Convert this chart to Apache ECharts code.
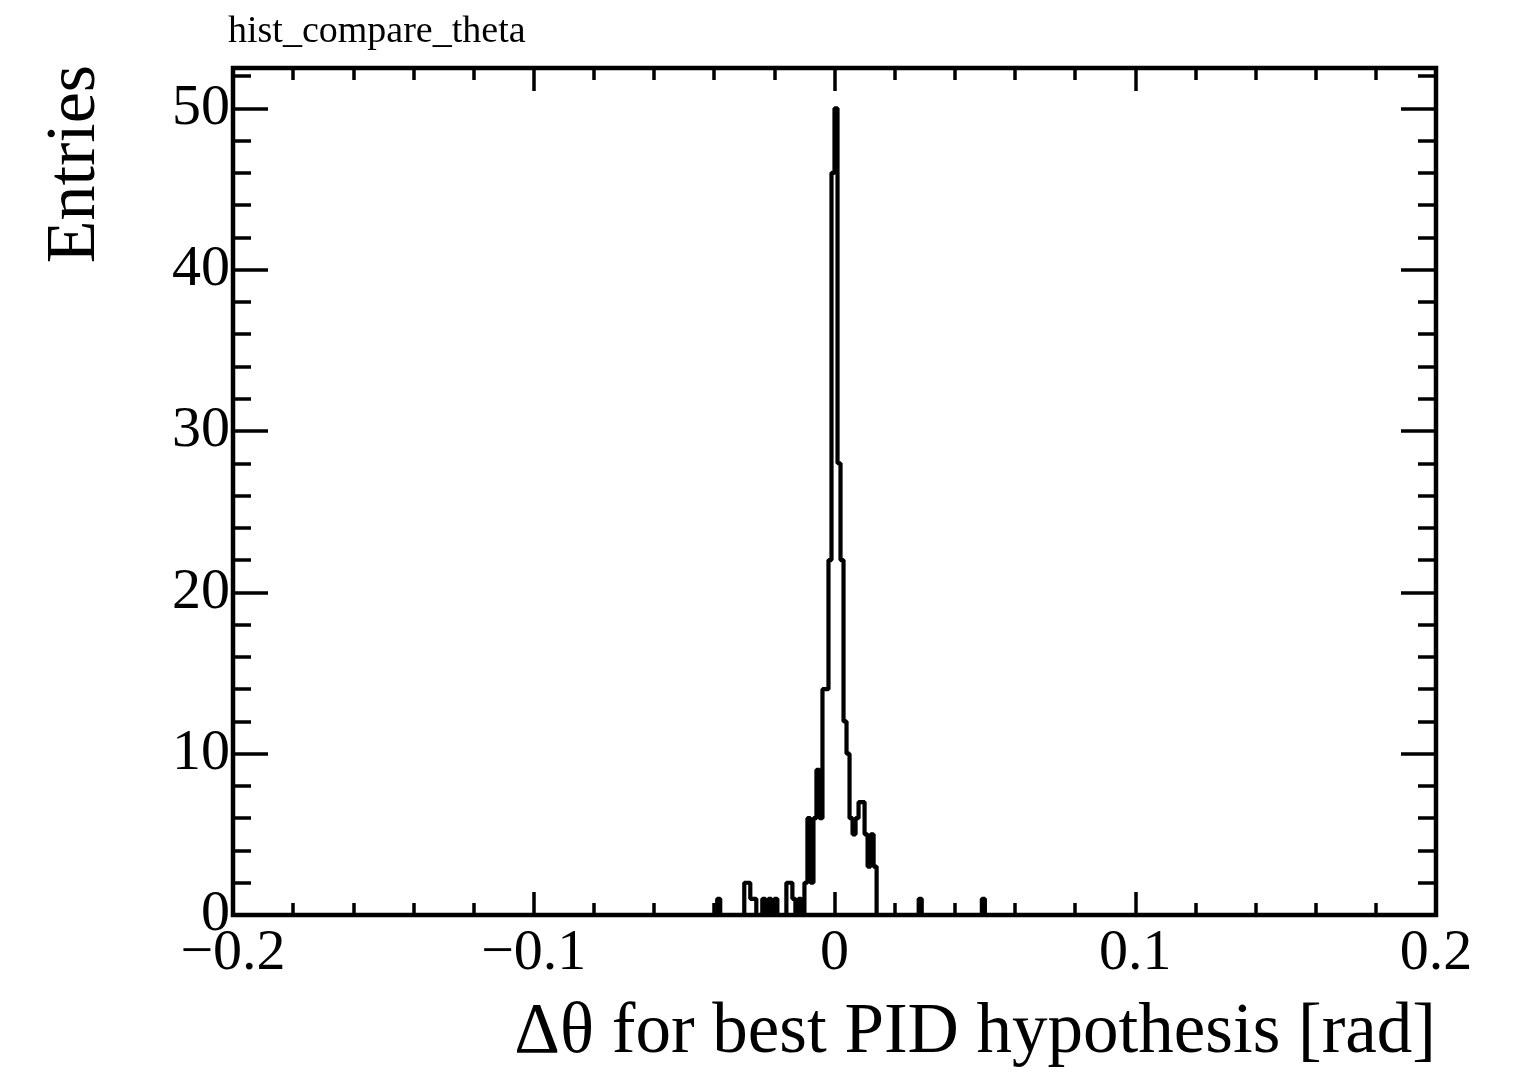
<!DOCTYPE html>
<html>
<head>
<meta charset="utf-8">
<script src="https://cdn.jsdelivr.net/npm/echarts@6/dist/echarts.min.js"></script>
<style>
  html, body { margin: 0; padding: 0; background: #fff; }
  #chart { width: 1523px; height: 1073px; }
</style>
</head>
<body>
<div id="chart"></div>
<script>
// ---- data ----
const histTitle = 'hist_compare_theta';
const xTitle = 'Δθ for best PID hypothesis [rad]';
const yTitle = 'Entries';
const xRange = [-0.2, 0.2];
const yRange = [0, 52.5];
const binWidth = 0.001;
const firstBinLow = -0.040;
// counts of bins starting at firstBinLow, each binWidth wide (all other bins are empty)
const counts = [
  0, 1, 0, 0, 0, 0, 0, 0, 0, 0,      // -0.040 .. -0.031
  2, 2, 1, 1, 0, 0, 1, 0, 1, 0,      // -0.030 .. -0.021
  1, 0, 0, 0, 2, 2, 1, 0, 1, 0,      // -0.020 .. -0.011
  2, 6, 2, 6, 9, 6, 14, 14, 22, 46,  // -0.010 .. -0.001
  50, 28, 22, 12, 10, 6, 5, 6, 7, 7, //  0.000 ..  0.009
  5, 3, 5, 3, 0, 0, 0, 0, 0, 0,      //  0.010 ..  0.019
  0, 0, 0, 0, 0, 0, 0, 0, 1, 0,      //  0.020 ..  0.029
  0, 0, 0, 0, 0, 0, 0, 0, 0, 0,      //  0.030 ..  0.039
  0, 0, 0, 0, 0, 0, 0, 0, 0, 1       //  0.040 ..  0.049
];
const xMajor = 0.1, xMinor = 0.02;
const yMajor = 10, yMinor = 2;

// ---- build step outline from bins ----
const outline = [[xRange[0], 0], [firstBinLow, 0]];
counts.forEach((c, i) => {
  const lo = +(firstBinLow + i * binWidth).toFixed(4);
  const hi = +(firstBinLow + (i + 1) * binWidth).toFixed(4);
  outline.push([lo, c], [hi, c]);
});
outline.push([+(firstBinLow + counts.length * binWidth).toFixed(4), 0]);
outline.push([xRange[1], 0]);

const FONT = "'Liberation Serif', 'Times New Roman', serif";
const fmtX = v => {
  if (Math.abs(v) < 1e-9) return '0';
  const s = (+Math.abs(v).toFixed(2)).toString();
  return v < 0 ? '\u2212' + s : s;
};

function xAxisDef(pos, interval, len, labels) {
  return {
    type: 'value', position: pos, min: xRange[0], max: xRange[1], interval: interval,
    axisLine: { show: false, onZero: false },
    axisTick: { show: true, inside: true, length: len, lineStyle: { color: '#000', width: 3.5 } },
    axisLabel: labels ? { show: true, formatter: fmtX, color: '#000', fontFamily: FONT, fontSize: 58, margin: 10 } : { show: false },
    splitLine: { show: false }
  };
}
function yAxisDef(pos, interval, len, labels) {
  return {
    type: 'value', position: pos, min: yRange[0], max: yRange[1], interval: interval,
    axisLine: { show: false, onZero: false },
    axisTick: { show: true, inside: true, length: len, lineStyle: { color: '#000', width: 3.5 } },
    axisLabel: labels ? { show: true, showMaxLabel: false, color: '#000', fontFamily: FONT, fontSize: 58, margin: 3,
      formatter: v => (v > 50.5 ? '' : String(v)) } : { show: false },
    splitLine: { show: false }
  };
}

const chart = echarts.init(document.getElementById('chart'), null, { renderer: 'canvas' });
chart.setOption({
  animation: false,
  backgroundColor: '#fff',
  grid: { left: 233, top: 68, width: 1203, height: 847, show: true, borderColor: '#000', borderWidth: 4.5, backgroundColor: 'transparent' },
  xAxis: [
    xAxisDef('bottom', xMajor, 23, true),
    xAxisDef('bottom', xMinor, 12, false),
    xAxisDef('top', xMajor, 23, false),
    xAxisDef('top', xMinor, 12, false)
  ],
  yAxis: [
    yAxisDef('left', yMajor, 35, true),
    yAxisDef('left', yMinor, 18, false),
    yAxisDef('right', yMajor, 35, false),
    yAxisDef('right', yMinor, 18, false)
  ],
  series: [{
    type: 'line', xAxisIndex: 0, yAxisIndex: 0, data: outline,
    showSymbol: false, symbol: 'none', clip: true,
    lineStyle: { color: '#000', width: 4.2 }, z: 5
  }],
  graphic: [
    { type: 'text', x: 228, y: 32, style: { text: histTitle, font: '38px ' + FONT, fill: '#000', align: 'left', textAlign: 'left', verticalAlign: 'middle', textVerticalAlign: 'middle' } },
    { type: 'text', x: 1436, y: 1033, style: { text: xTitle, font: '71px ' + FONT, fill: '#000', align: 'right', textAlign: 'right', verticalAlign: 'middle', textVerticalAlign: 'middle' } },
    { type: 'text', x: 76, y: 65, rotation: Math.PI / 2, style: { text: yTitle, font: '70px ' + FONT, fill: '#000', align: 'right', textAlign: 'right', verticalAlign: 'middle', textVerticalAlign: 'middle' } }
  ]
});
</script>
</body>
</html>
